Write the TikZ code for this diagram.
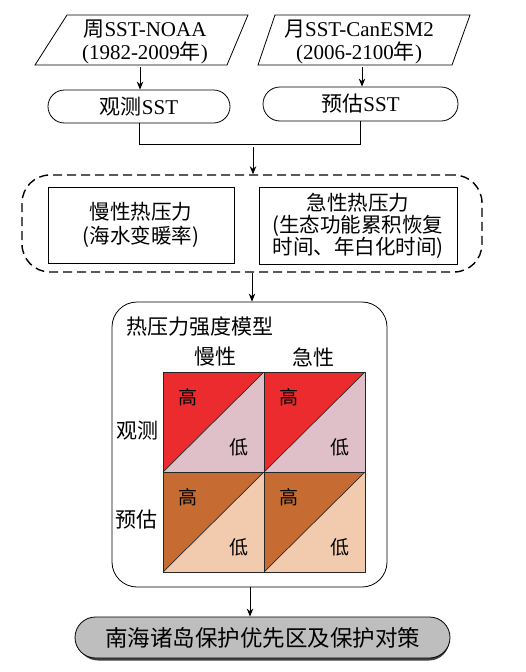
\documentclass[tikz,border=0pt]{standalone}
\usepackage{fontspec}
\setmainfont{Liberation Serif}
\newfontfamily\cjk{Noto Sans CJK SC}
\usetikzlibrary{shapes.misc,arrows.meta}
\newcommand\zh[1]{{\cjk #1}}
\newcommand\setfs[2]{\fontsize{#1pt}{#2pt}\selectfont}
\definecolor{hired}{HTML}{EC2B2E}
\definecolor{lopink}{HTML}{DFBFC8}
\definecolor{hibrown}{HTML}{C66C33}
\definecolor{lopeach}{HTML}{F2CBAE}
\definecolor{fgray}{HTML}{BEBEBE}
\begin{document}
\begin{tikzpicture}[x=1pt,y=-1pt,
  line/.style={line width=0.8pt},
  arr/.style={-{Stealth[length=8pt,width=6.5pt]},line width=0.9pt},
  stadium/.style={draw,rounded rectangle,line width=0.8pt,inner sep=0pt},
  plainbox/.style={draw,rectangle,line width=0.8pt,inner sep=0pt,align=center},
  txt/.style={inner sep=0pt,align=center},
  grid/.style={line width=0.7pt,draw=black!85}]
\useasboundingbox (0,0) rectangle (526,672);

% input parallelograms
\draw[line] (67,15) -- (248,15) -- (227,65) -- (35,65) -- cycle;
\draw[line] (275,15) -- (470,15) -- (452,65) -- (258,65) -- cycle;
\node[txt,font=\setfs{21}{23}] (p1) at (145,42) {\zh{周}SST-NOAA\\(1982-2009\zh{年})};
\node[txt,font=\setfs{21}{23}] (p2) at (359,42) {\zh{月}SST-CanESM2\\(2006-2100\zh{年})};

% SST boxes
\node[stadium,minimum width=182pt,minimum height=33pt,font=\setfs{21}{23}] (r1) at (139,106.5) {\zh{观测}SST};
\node[stadium,minimum width=195pt,minimum height=34pt,font=\setfs{21}{23}] (r2) at (360.5,104) {\zh{预估}SST};
\draw[arr] (140,67) -- (r1.north -| 140,0);
\draw[arr] (362,67) -- (r2.north -| 362,0);

% junction
\draw[line] (r1.south) -- (r1.south |- 0,144) -| (r2.south);
\coordinate (j) at (253,147);

% dashed group
\node[draw,dash pattern=on 9pt off 5pt,line width=1.4pt,rounded corners=28pt,minimum width=460pt,minimum height=97pt,inner sep=0pt] (d) at (252,223.5) {};
\node[plainbox,minimum width=186pt,minimum height=76pt,font=\cjk\setfs{20.5}{24}] (b1) at (141,225) {慢性热压力\\(海水变暖率)};
\node[plainbox,minimum width=198pt,minimum height=77pt,font=\cjk\setfs{20.5}{22}] (b2) at (358,225.5) {急性热压力\\(生态功能累积恢复\\时间、年白化时间)};
\draw[arr] (j) -- (j |- d.north);

% model box
\node[draw,line width=0.8pt,rounded corners=25pt,minimum width=275pt,minimum height=285pt,inner sep=0pt] (m) at (249.5,444.5) {};
\draw[arr] (d.south) -- (d.south |- m.north);
\node[txt,anchor=west,font=\cjk\setfs{21}{23}] (title) at (126,327) {热压力强度模型};
\node[txt,font=\cjk\setfs{21}{23}] (c1) at (215,357) {慢性};
\node[txt,font=\cjk\setfs{21}{23}] (c2) at (313,357) {急性};
\node[txt,font=\cjk\setfs{21}{23}] (w1) at (137,431) {观测};
\node[txt,font=\cjk\setfs{21}{23}] (w2) at (136,520) {预估};

% matrix cells
\fill[hired] (163,372) -- (264,372) -- (163,472) -- cycle;
\fill[lopink] (264,372) -- (264,472) -- (163,472) -- cycle;
\fill[hired] (264,372) -- (365,372) -- (264,472) -- cycle;
\fill[lopink] (365,372) -- (365,472) -- (264,472) -- cycle;
\fill[hibrown] (163,472) -- (264,472) -- (163,572) -- cycle;
\fill[lopeach] (264,472) -- (264,572) -- (163,572) -- cycle;
\fill[hibrown] (264,472) -- (365,472) -- (264,572) -- cycle;
\fill[lopeach] (365,472) -- (365,572) -- (264,572) -- cycle;
\draw[grid] (163,372) rectangle (365,572);
\draw[grid] (264,372) -- (264,572) (163,472) -- (365,472);
\draw[grid] (163,472) -- (264,372) (264,472) -- (365,372)
            (163,572) -- (264,472) (264,572) -- (365,472);
\node[txt,font=\cjk\setfs{19}{21}] (h11) at (188,397) {高};
\node[txt,font=\cjk\setfs{19}{21}] (l11) at (239,447) {低};
\node[txt,font=\cjk\setfs{19}{21}] (h12) at (289,397) {高};
\node[txt,font=\cjk\setfs{19}{21}] (l12) at (340,447) {低};
\node[txt,font=\cjk\setfs{19}{21}] (h21) at (188,497) {高};
\node[txt,font=\cjk\setfs{19}{21}] (l21) at (239,547) {低};
\node[txt,font=\cjk\setfs{19}{21}] (h22) at (289,497) {高};
\node[txt,font=\cjk\setfs{19}{21}] (l22) at (340,547) {低};

% final box
\node[rounded rectangle,fill=black!75,minimum width=372pt,minimum height=41pt,inner sep=0pt] (fs) at (263.5,640) {};
\node[stadium,fill=fgray,minimum width=375pt,minimum height=41pt,font=\cjk\setfs{22.5}{24}] (f) at (262.5,637.5) {南海诸岛保护优先区及保护对策};
\draw[arr] (m.south -| 250,0) -- (f.north -| 250,0);
\end{tikzpicture}
\end{document}
